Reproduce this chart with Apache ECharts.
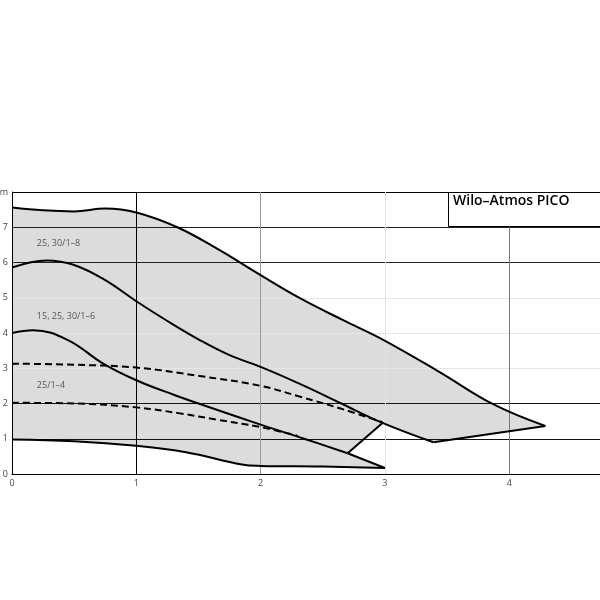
<!DOCTYPE html>
<html>
<head>
<meta charset="utf-8">
<script src="https://cdn.jsdelivr.net/npm/echarts@6/dist/echarts.min.js"></script>
<style>
  html, body { margin: 0; padding: 0; background: #fff; }
  #chart { width: 600px; height: 600px; }
</style>
</head>
<body>
<div id="chart"></div>
<script>
// 25, 30/1-8 (top envelope)
const topX = [0, 0.25, 0.5, 0.75, 1.0, 1.33, 1.66, 2.0, 2.32, 2.66, 2.99, 3.44, 3.87, 4.29]
const topY = [7.56, 7.48, 7.45, 7.53, 7.42, 7.0, 6.37, 5.64, 4.98, 4.37, 3.8, 2.89, 1.98, 1.36]
// 15, 25, 30/1-6
const midX = [0, 0.28, 0.5, 0.75, 1.0, 1.25, 1.51, 1.75, 2.0, 2.32, 2.65, 2.98, 3.39]
const midY = [5.86, 6.06, 5.93, 5.5, 4.9, 4.34, 3.8, 3.37, 3.04, 2.55, 2.0, 1.45, 0.9]
// 25/1-4
const lowX = [0, 0.17, 0.45, 0.73, 1.0, 1.3, 1.6, 2.0, 2.35, 2.7]
const lowY = [4.0, 4.08, 3.8, 3.14, 2.66, 2.25, 1.88, 1.4, 1.0, 0.59]
const lowTailX = [2.7, 3.0]
const lowTailY = [0.59, 0.17]
// minimum curve
const minX = [0, 0.5, 1.0, 1.4, 1.85, 2.0, 2.5, 3.0]
const minY = [0.98, 0.93, 0.8, 0.62, 0.27, 0.23, 0.21, 0.17]
// dashed curves
const dashAX = [0, 0.5, 1.0, 1.51, 2.0, 2.32, 2.65, 2.98]
const dashAY = [3.13, 3.1, 3.02, 2.78, 2.5, 2.19, 1.85, 1.47]
const dashBX = [0, 0.5, 1.0, 1.35, 1.65, 2.0, 2.3]
const dashBY = [2.02, 2.0, 1.89, 1.72, 1.54, 1.33, 1.08]
// straight boundary pieces
const joinX = [2.7, 2.98]
const joinY = [0.59, 1.45]
const closeX = [3.39, 4.29]
const closeY = [0.9, 1.36]
// lower edge of the gray field at the right
const edgeX = [2.7, 2.98, 3.39, 4.29]
const edgeY = [0.59, 1.45, 0.9, 1.36]

const labelNames = ['25, 30/1–8', '15, 25, 30/1–6', '25/1–4']
const labelX = [0.2, 0.2, 0.2]
const labelY = [6.55, 4.48, 2.52]

const yGridColors = ['#000', '#111', '#111', '#e6e6e6', '#e6e6e6', '#e6e6e6', '#222', '#222', '#000']
const xGridColors = ['#000', '#000', '#999', '#e2e2e2', '#7a7a7a', 'rgba(0,0,0,0)']

const FILL = '#dcdcdd'
const SMOOTH = 0.4

function pts(xs, ys) {
    return xs.map((x, i) => [x, ys[i]])
}

function area(xs, ys, color, smooth) {
    return {
        type: 'line',
        data: pts(xs, ys),
        smooth: smooth,
        symbol: 'none',
        silent: true,
        z: -1,
        lineStyle: { width: 0 },
        areaStyle: { color: color, opacity: 1, origin: 'start' }
    }
}

function curve(xs, ys, smooth, dashed) {
    return {
        type: 'line',
        data: pts(xs, ys),
        smooth: smooth,
        symbol: 'none',
        silent: true,
        z: 3,
        lineStyle: { color: '#000', width: 2, type: dashed ? [7, 4] : 'solid', cap: 'butt' }
    }
}

// thin white strokes that hide the seam where gray and white fills end
function seam(x, yTop) {
    return {
        type: 'line',
        data: [[x, 0], [x, yTop]],
        symbol: 'none',
        silent: true,
        z: -1,
        lineStyle: { color: '#fff', width: 1.5 }
    }
}

const myChart = echarts.init(document.getElementById('chart'))

let option = {
    animation: false,
    grid: { left: 12, right: 0, top: 192, bottom: 126, outerBoundsMode: 'none', containLabel: false },
    xAxis: {
        type: 'value',
        min: 0,
        max: 4.73,
        interval: 1,
        axisLine: { show: true, lineStyle: { color: '#000', width: 1 } },
        axisTick: { show: false },
        axisLabel: {
            margin: 5,
            fontSize: 9,
            color: '#444',
            fontFamily: 'Open Sans',
            showMaxLabel: false
        },
        splitLine: { show: true, lineStyle: { color: xGridColors, width: 1 } }
    },
    yAxis: {
        type: 'value',
        min: 0,
        max: 8,
        interval: 1,
        axisLine: { show: true, lineStyle: { color: '#000', width: 1 } },
        axisTick: { show: false },
        axisLabel: {
            margin: 4,
            fontSize: 9,
            color: '#444',
            fontFamily: 'Open Sans',
            formatter: v => (v === 8 ? 'm' : v)
        },
        splitLine: { show: true, lineStyle: { color: yGridColors, width: 1 } }
    },
    graphic: [
        {
            type: 'rect',
            left: 448,
            top: 192,
            z: 100,
            shape: { width: 160, height: 34 },
            style: { fill: '#fff', stroke: '#000', lineWidth: 1 }
        },
        {
            type: 'text',
            left: 453,
            top: 194,
            z: 101,
            style: {
                text: 'Wilo–Atmos PICO',
                fill: '#000',
                font: '600 14px "Open Sans"'
            }
        }
    ],
    series: [
        // gray field, built up in layers
        area(topX, topY, FILL, SMOOTH),
        area(edgeX, edgeY, '#fff', false),
        area(lowTailX, lowTailY, FILL, false),
        area(minX, minY, '#fff', SMOOTH),
        seam(closeX[1], closeY[1]),
        seam(minX[minX.length - 1], minY[minY.length - 1]),
        // curves
        curve(topX, topY, SMOOTH, false),
        curve(midX, midY, SMOOTH, false),
        curve(lowX, lowY, SMOOTH, false),
        curve(lowTailX, lowTailY, false, false),
        curve(minX, minY, SMOOTH, false),
        curve(joinX, joinY, false, false),
        curve(closeX, closeY, false, false),
        curve(dashAX, dashAY, SMOOTH, true),
        curve(dashBX, dashBY, SMOOTH, true),
        {
            type: 'scatter',
            data: labelNames.map((n, i) => ({ name: n, value: [labelX[i], labelY[i]] })),
            symbolSize: 0,
            silent: true,
            z: 4,
            label: {
                show: true,
                position: 'right',
                distance: 0,
                formatter: p => p.name,
                fontSize: 9,
                color: '#333',
                fontFamily: 'Open Sans'
            }
        }
    ]
}
myChart.setOption(option)
</script>
</body>
</html>
